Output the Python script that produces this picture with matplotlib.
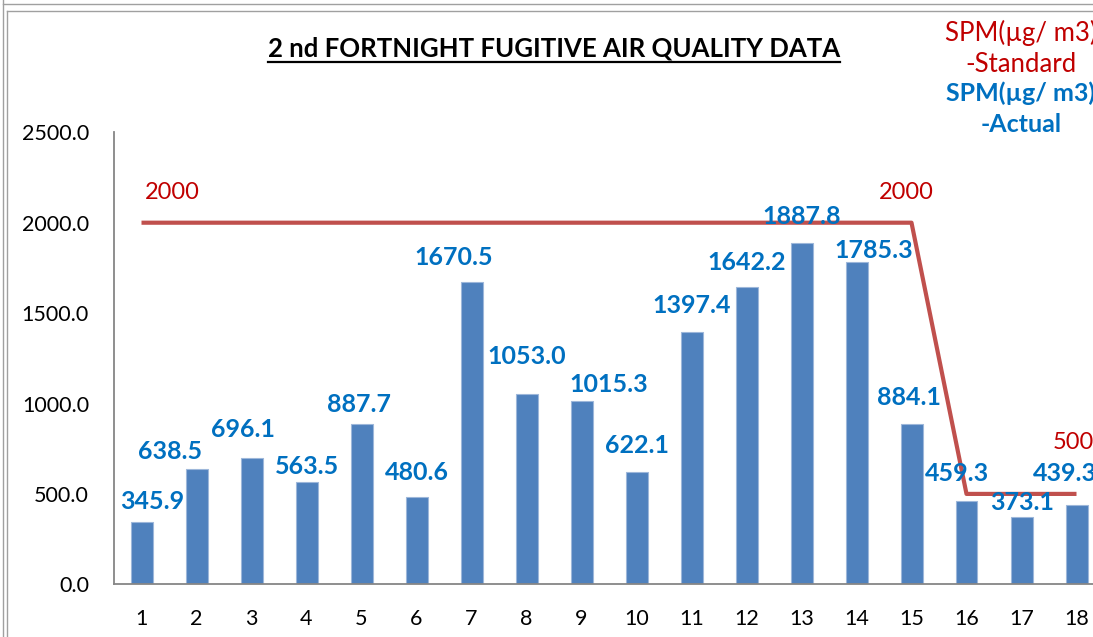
import numpy as np
import matplotlib
matplotlib.use("Agg")
import matplotlib.pyplot as plt
from matplotlib.lines import Line2D

plt.rcParams['font.family'] = ['Lato', 'DejaVu Sans']

## data
days = list(range(1, 19))
spm_actual = [345.9, 638.5, 696.1, 563.5, 887.7, 480.6, 1670.5, 1053.0, 1015.3,
              622.1, 1397.4, 1642.2, 1887.8, 1785.3, 884.1, 459.3, 373.1, 439.3]
spm_standard = [2000] * 15 + [500] * 3
standard_labelled = [0, 14, 17]   # points whose standard value is written

## label nudges in pixels (label centre relative to bar top / line point)
bar_dx = [11, -26, -9, 1, -2, 0, -18, 0, 27, 0, 0, 0, 0, 17, -2, -10, 1, -12]
bar_dy = [20, 17, 29, 16, 19, 25, 25, 37, 16, 26, 26, 25, 26, 11, 27, 28, 14, 31]
std_offsets = [(31, 30), (-5, 30), (-3, 51)]

bar_col = '#4F81BD'
line_col = '#C0504D'
lab_blue = '#0070C0'
lab_red = '#C00000'

W, H = 1093, 637
fig = plt.figure(figsize=(W / 100, H / 100), dpi=100)
ax = fig.add_axes([114 / W, 52.7 / H, 990 / W, 452 / H])

ax.bar(days, spm_actual, width=0.4, color=bar_col, edgecolor='#9DB7DA', linewidth=0.8, zorder=2)
ax.plot(days, spm_standard, color=line_col, lw=3, solid_capstyle='butt', zorder=3)

for i, v in enumerate(spm_actual):
    ax.annotate(f'{v:.1f}', (days[i], v), xytext=(bar_dx[i], bar_dy[i]),
                textcoords='offset pixels', ha='center', va='center',
                fontsize=18, fontweight='bold', color=lab_blue, zorder=4)

for k, i in enumerate(standard_labelled):
    ax.annotate(f'{spm_standard[i]}', (days[i], spm_standard[i]), xytext=std_offsets[k],
                textcoords='offset pixels', ha='center', va='center',
                fontsize=17, color=lab_red, zorder=4)

ax.set_xlim(0.5, 18.5)
ax.set_ylim(0, 2500)
ax.set_xticks(days)
ax.set_yticks(np.arange(0, 2501, 500))
ax.set_yticklabels([f'{t:.1f}' for t in np.arange(0, 2501, 500)])
ax.tick_params(axis='both', length=0, labelsize=15.5, pad=18)
for s in ['top', 'right']:
    ax.spines[s].set_visible(False)
for s in ['left', 'bottom']:
    ax.spines[s].set_color('#868686')
    ax.spines[s].set_linewidth(1.3)

# title with underline
title = fig.text(554 / W, 1 - 48 / H, '2 nd FORTNIGHT FUGITIVE AIR QUALITY DATA',
                 ha='center', va='center', fontsize=18.5, fontweight='bold')

# legend as plain text, top right
leg_x = 1021 / W
fig.text(leg_x, 1 - 33 / H, 'SPM(µg/ m3)', ha='center', va='center', fontsize=18.5, color=lab_red)
fig.text(leg_x, 1 - 65 / H, '-Standard', ha='center', va='center', fontsize=18.5, color=lab_red)
fig.text(leg_x, 1 - 93 / H, 'SPM(µg/ m3)', ha='center', va='center', fontsize=18,
         color=lab_blue, fontweight='bold')
fig.text(leg_x, 1 - 124 / H, '-Actual', ha='center', va='center', fontsize=18,
         color=lab_blue, fontweight='bold')

fig.canvas.draw()
bb = title.get_window_extent(fig.canvas.get_renderer())
uy = 1 - 62 / H
fig.add_artist(Line2D([bb.x0 / W, bb.x1 / W], [uy, uy], color='black', lw=1.6))

# outer frame lines
frame = '#A0A0A0'
fig.add_artist(Line2D([3 / W, 3 / W], [0, 1], color=frame, lw=1))
fig.add_artist(Line2D([3 / W, 1], [1 - 4 / H, 1 - 4 / H], color=frame, lw=1))
fig.add_artist(Line2D([6.5 / W, 6.5 / W], [0, 1 - 10.5 / H], color=frame, lw=1))
fig.add_artist(Line2D([6.5 / W, 1], [1 - 10.5 / H, 1 - 10.5 / H], color=frame, lw=1))

fig.savefig('out.png', dpi=100)
